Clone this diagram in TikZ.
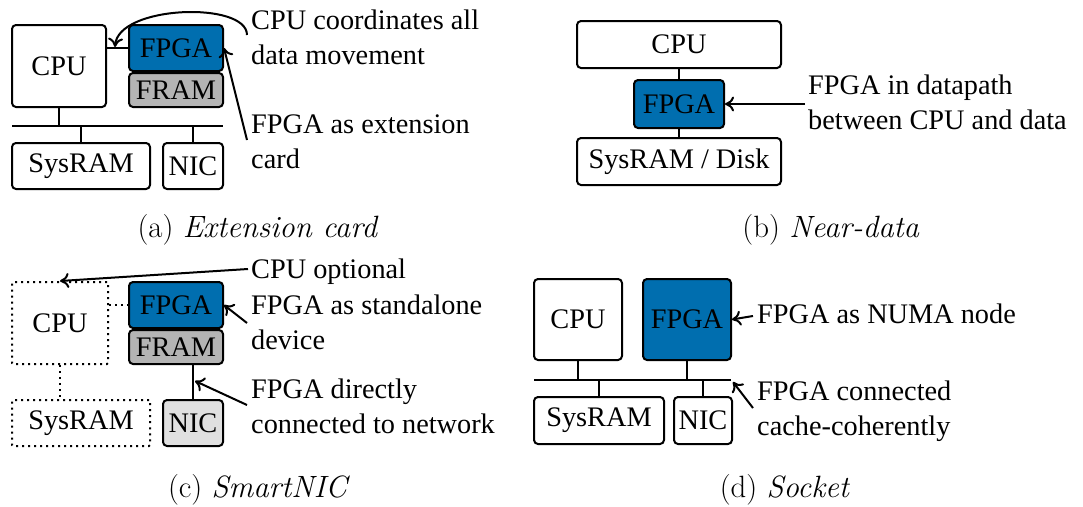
\documentclass[tikz,border=0pt]{standalone}
\usepackage{fontspec}
\newfontfamily\tmfont{Liberation Serif}
\usetikzlibrary{arrows.meta,calc}

\definecolor{fpgablue}{RGB}{0,110,175}
\definecolor{framgray}{RGB}{180,180,180}
\definecolor{nicgray}{RGB}{224,224,224}

% two-line label whose baseline is the first line's baseline
\newcommand\twolines[2]{\vtop{\hbox{#1}\hbox{#2}}}

\begin{document}
\begin{tikzpicture}[x=1pt,y=-1pt,
  box/.style={draw, line width=2pt, rounded corners=4pt, inner sep=0pt,
    font=\tmfont\fontsize{28.3}{34}\selectfont},
  fpga/.style={box, fill=fpgablue},
  fram/.style={box, fill=framgray},
  nicbox/.style={box, fill=nicgray},
  dotbox/.style={box, rounded corners=1pt, dash pattern=on 2pt off 4pt},
  link/.style={line width=2pt},
  dotlink/.style={line width=2pt, dash pattern=on 2pt off 4pt},
  note/.style={font=\tmfont\fontsize{28.3}{35.5}\selectfont, inner sep=0pt, anchor=base west},
  callout/.style={line width=2pt, -{Computer Modern Rightarrow[length=9pt,width=15pt]}},
  subcap/.style={font=\fontsize{30.8}{36}\selectfont, inner sep=0pt, anchor=base}
]
\path[fill=white] (0,0) rectangle (1083,505);

% ---------------- (a) Extension card ----------------
\node[box, minimum width=94pt, minimum height=82pt] (cpuA) at (59,65) {CPU};
\node[fpga, minimum width=94pt, minimum height=46pt] (fpgaA) at (176,47) {FPGA};
\node[fram, minimum width=94pt, minimum height=34pt] (framA) at (176,89) {FRAM};
\node[box, minimum width=138pt, minimum height=46pt] (sysA) at (81,165) {SysRAM};
\node[box, minimum width=60pt, minimum height=46pt] (nicA) at (193,165) {NIC};
\coordinate (busAw) at (12,125);
\coordinate (busAe) at (223,125);
\draw[link] (busAw) -- (busAe);
\draw[link] (cpuA.south) -- (cpuA.south |- busAw);
\draw[link] (sysA.north) -- (sysA.north |- busAw);
\draw[link] (nicA.north) -- (nicA.north |- busAw);
\draw[link] (cpuA.east |- fpgaA.west) -- (fpgaA.west);
\coordinate (pcieA) at (115,46);

\node[note] (noteA1) at (251,28) {\twolines{CPU coordinates all}{data movement}};
\node[note] (noteA2) at (251,132) {\twolines{FPGA as extension}{card}};
\coordinate (tailA1) at (247,34);
\coordinate (tailA2) at (247,139);
\draw[callout] (tailA1) .. controls (247,0) and (118,4) .. (pcieA);
\draw[callout] (tailA2) -- (fpgaA.east);

% ---------------- (b) Near-data ----------------
\node[box, minimum width=204pt, minimum height=47pt] (cpuB) at (679,43.5) {CPU};
\node[fpga, minimum width=90pt, minimum height=48pt] (fpgaB) at (679,103) {FPGA};
\node[box, minimum width=204pt, minimum height=47pt] (sysB) at (679,160.5) {SysRAM / Disk};
\draw[link] (cpuB) -- (fpgaB);
\draw[link] (fpgaB) -- (sysB);

\node[note] (noteB) at (808,93) {\twolines{FPGA in datapath}{between CPU and data}};
\coordinate (tailB) at (805,103);
\draw[callout] (tailB) -- (fpgaB.east);

% ---------------- (c) SmartNIC ----------------
\node[dotbox, minimum width=96pt, minimum height=82pt] (cpuC) at (60,322) {CPU};
\node[fpga, minimum width=94pt, minimum height=46pt] (fpgaC) at (176,304) {FPGA};
\node[fram, minimum width=94pt, minimum height=34pt] (framC) at (176,346) {FRAM};
\node[dotbox, minimum width=138pt, minimum height=46pt] (sysC) at (81,422) {SysRAM};
\node[nicbox, minimum width=60pt, minimum height=46pt] (nicC) at (193,422) {NIC};
\draw[dotlink] (cpuC.east |- fpgaC.west) -- (fpgaC.west);
\draw[dotlink] (cpuC.south) -- (cpuC.south |- sysC.north);
\draw[link] (nicC.north |- framC.south) -- (nicC.north);
\coordinate (netC) at (195,380);

\node[note] (noteC1) at (251,277) {CPU optional};
\node[note] (noteC2) at (251,313) {\twolines{FPGA as standalone}{device}};
\node[note] (noteC3) at (251,397) {\twolines{FPGA directly}{connected to network}};
\coordinate (tailC1) at (248,268);
\coordinate (tailC2) at (247,322);
\coordinate (tailC3) at (247,404);
\draw[callout] (tailC1) -- (cpuC.north);
\draw[callout] (tailC2) -- (fpgaC.east);
\draw[callout] (tailC3) -- (netC);

% ---------------- (d) Socket ----------------
\node[box, minimum width=88pt, minimum height=81pt] (cpuD) at (578,318.5) {CPU};
\node[fpga, minimum width=88pt, minimum height=81pt] (fpgaD) at (687,318.5) {FPGA};
\node[box, minimum width=130pt, minimum height=47pt] (sysD) at (599,419.5) {SysRAM};
\node[box, minimum width=58pt, minimum height=47pt] (nicD) at (703,419.5) {NIC};
\coordinate (busDw) at (534,379);
\coordinate (busDe) at (731,379);
\draw[link] (busDw) -- (busDe);
\draw[link] (cpuD.south) -- (cpuD.south |- busDw);
\draw[link] (fpgaD.south) -- (fpgaD.south |- busDw);
\draw[link] (sysD.north) -- (sysD.north |- busDw);
\draw[link] (nicD.north) -- (nicD.north |- busDw);
\coordinate (busDtip) at (733,381);

\node[note] (noteD1) at (757,322) {FPGA as NUMA node};
\node[note] (noteD2) at (757,399) {\twolines{FPGA connected}{cache-coherently}};
\coordinate (tailD1) at (753,315);
\coordinate (tailD2) at (753,407);
\draw[callout] (tailD1) -- (fpgaD.east);
\draw[callout] (tailD2) -- (busDtip);

% ---------------- sub-captions ----------------
\node[subcap] (capA) at (258,236) {(a) \textit{Extension card}};
\node[subcap] (capB) at (831,236) {(b) \textit{Near-data}};
\node[subcap] (capC) at (259,496) {(c) \textit{SmartNIC}};
\node[subcap] (capD) at (785,496) {(d) \textit{Socket}};
\end{tikzpicture}
\end{document}
